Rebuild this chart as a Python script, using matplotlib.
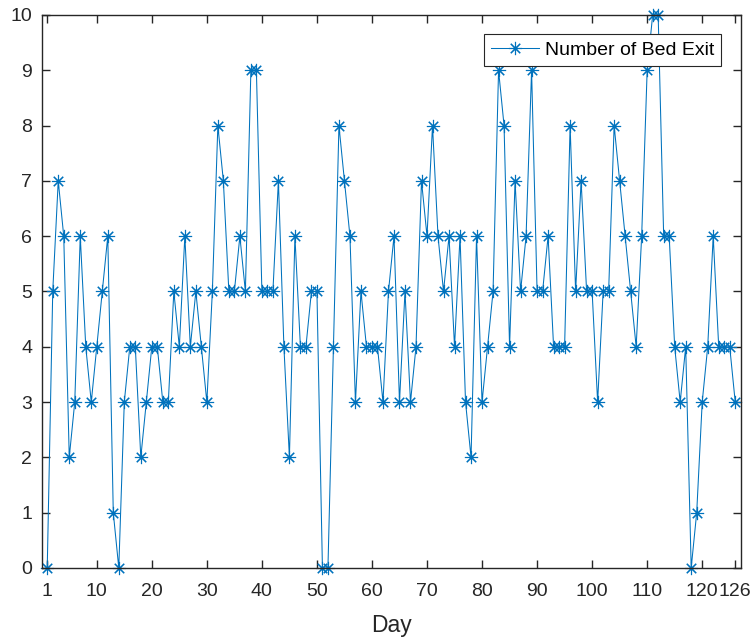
import matplotlib
matplotlib.use("Agg")
import matplotlib.pyplot as plt
import numpy as np

plt.rcParams['font.family'] = ['Liberation Sans', 'DejaVu Sans']

days = list(range(1, 127))
bed_exits = [
    0, 5, 7, 6, 2, 3, 6, 4, 3, 4,
    5, 6, 1, 0, 3, 4, 4, 2, 3, 4,
    4, 3, 3, 5, 4, 6, 4, 5, 4, 3,
    5, 8, 7, 5, 5, 6, 5, 9, 9, 5,
    5, 5, 7, 4, 2, 6, 4, 4, 5, 5,
    0, 0, 4, 8, 7, 6, 3, 5, 4, 4,
    4, 3, 5, 6, 3, 5, 3, 4, 7, 6,
    8, 6, 5, 6, 4, 6, 3, 2, 6, 3,
    4, 5, 9, 8, 4, 7, 5, 6, 9, 5,
    5, 6, 4, 4, 4, 8, 5, 7, 5, 5,
    3, 5, 5, 8, 7, 6, 5, 4, 6, 9,
    10, 10, 6, 6, 4, 3, 4, 0, 1, 3,
    4, 6, 4, 4, 4, 3,
]
x_ticks = [1, 10, 20, 30, 40, 50, 60, 70, 80, 90, 100, 110, 120, 126]
y_ticks = list(range(0, 11))
series_label = "Number of Bed Exit"
x_label = "Day"

fig = plt.figure(figsize=(7.56, 6.41), dpi=100)
ax = fig.add_axes([0.0552, 0.1139, 0.9798 - 0.0552, 0.9766 - 0.1139])

blue = '#0072BD'
ax.plot(days, bed_exits, color=blue, linewidth=0.75, marker=(8, 2, 0),
        markersize=9.5, markeredgewidth=0.8, label=series_label, clip_on=False)

ax.set_xlim(0, 127)
ax.set_ylim(0, 10)
ax.set_xticks(x_ticks)
ax.set_yticks(y_ticks)
ax.set_xticklabels([str(t) for t in x_ticks])

dark = '#262626'
for s in ax.spines.values():
    s.set_color(dark)
    s.set_linewidth(1.0)
ax.tick_params(axis='both', which='both', direction='in', length=6, width=1.0,
               color=dark, labelcolor=dark, labelsize=14, top=True, right=True)
ax.tick_params(axis='x', pad=11)
ax.tick_params(axis='y', pad=7)
ax.set_xlabel(x_label, fontsize=16.5, color=dark, labelpad=10)

leg = ax.legend(loc='upper right', bbox_to_anchor=(0.972, 0.965), fontsize=14,
                frameon=True, fancybox=False, framealpha=1, borderpad=0.35,
                handlelength=2.5, handletextpad=0.3, borderaxespad=0)
leg.get_frame().set_edgecolor(dark)
leg.get_frame().set_linewidth(0.8)

fig.savefig("out.png", dpi=100)
